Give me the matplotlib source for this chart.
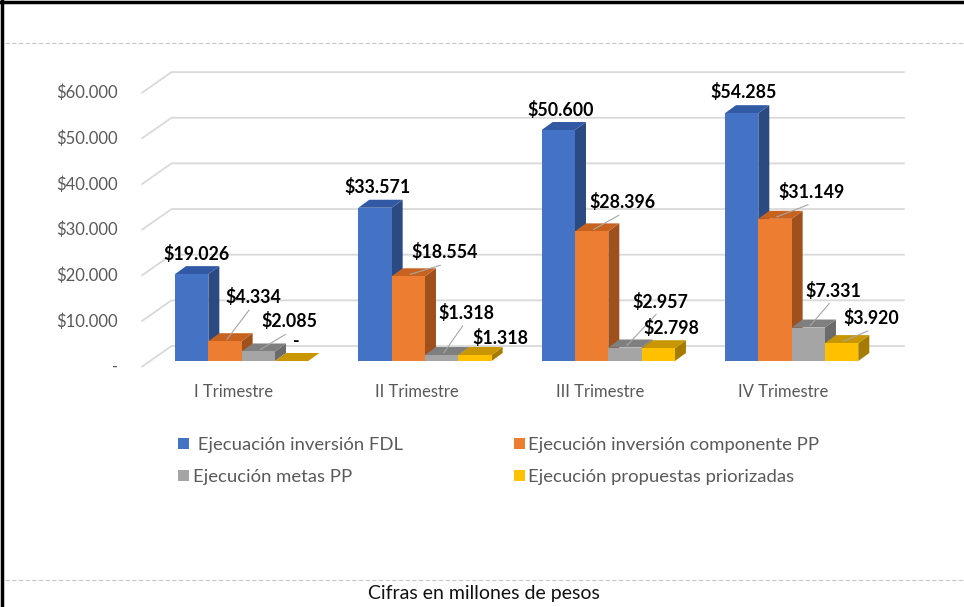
# libraries
import matplotlib
matplotlib.use("Agg")
import matplotlib.pyplot as plt
from matplotlib.patches import Patch
from matplotlib.lines import Line2D
from matplotlib.transforms import offset_copy
import numpy as np

# data
categories = ["I Trimestre", "II Trimestre", "III Trimestre", "IV Trimestre"]
series = [" Ejecuación inversión FDL", "Ejecución inversión componente PP",
          "Ejecución metas PP", "Ejecución propuestas priorizadas"]
fdl = [19026, 33571, 50600, 54285]
componente_pp = [4334, 18554, 28396, 31149]
metas_pp = [2085, 1318, 2957, 7331]
propuestas = [0, 1318, 2798, 3920]
yticks = [0, 10000, 20000, 30000, 40000, 50000, 60000]

values = [fdl, componente_pp, metas_pp, propuestas]

# styles
front = ["#4472C4", "#ED7D31", "#A5A5A5", "#FFC000"]
top = ["#3259A3", "#C8621F", "#7F7F7F", "#C89600"]
side = ["#2C4A82", "#A0501C", "#6B6B6B", "#A67C00"]
font = ["Lato", "DejaVu Sans"]
grey_txt = "#595959"

# label offsets in pixels (dx right, dy down) from bar front-top centre
label_off = [
    [(5, -20), (28, -44), (31, -30), (5, -19)],
    [(3, -21), (36, -24), (25, -42), (25, -17)],
    [(2, -20), (31, -29), (35, -46), (13, -20)],
    [(2, -21), (37, -27), (25, -37), (30, -25)],
]
leader = [
    [False, True, True, False],
    [False, True, True, False],
    [False, True, True, False],
    [False, True, True, True],
]

W, H, DPI = 964, 607, 100
fig = plt.figure(figsize=(W / DPI, H / DPI), dpi=DPI)
ax = fig.add_axes([150 / W, (H - 361) / H, 733.3 / W, 273.9 / H])
ax.set_xlim(-0.5, 3.5)
ax.set_ylim(0, 60000)
ax.axis("off")

px_x = 733.3 / 4.0          # pixels per category unit
px_y = 273.9 / 60000.0      # pixels per value unit


def off(dx, dy):
    # pixel offset (right, down) -> data offset
    return dx / px_x, -dy / px_y


bw = 0.1818
depth = off(11, -8)
front_off = off(-8.5, 6)
back_off = off(21.5, -15)

# gridlines (back wall + left diagonal)
for v in yticks:
    xs = [-0.5 + front_off[0], -0.5 + back_off[0], 3.5 + back_off[0]]
    ys = [v + front_off[1], v + back_off[1], v + back_off[1]]
    ax.plot(xs, ys, color="#D9D9D9", lw=1.3, clip_on=False, zorder=1,
            solid_capstyle="butt")
    lab = "-" if v == 0 else "${:,.0f}".format(v).replace(",", ".")
    ax.text(-0.5, v, lab, ha="right", va="center", fontsize=12,
            family=font, color=grey_txt,
            transform=offset_copy(ax.transData, fig, x=-32, y=-6, units="dots"))

# bars with fake depth
for s in range(4):
    x0 = np.arange(4) + (s - 2) * bw
    bars = ax.bar(x0, values[s], width=bw, align="edge", color=front[s],
                  linewidth=0, clip_on=False)
    for g, b in enumerate(bars):
        z = 10 + g * 10 + s * 2
        b.set_zorder(z + 1)
        a, c = x0[g], x0[g] + bw
        v = values[s][g]
        dx, dy = depth
        ax.fill([c, c + dx, c + dx, c], [0, dy, v + dy, v], color=side[s],
                lw=0, clip_on=False, zorder=z)
        ax.fill([a, c, c + dx, a + dx], [v, v, v + dy, v + dy], color=top[s],
                lw=0, clip_on=False, zorder=z)

        # data labels
        lx, ly = label_off[g][s]
        txt = "-" if v == 0 else "${:,.0f}".format(v).replace(",", ".")
        cx = a + bw / 2
        ax.text(cx, v, txt, ha="center", va="center", fontsize=12.8,
                fontweight="bold", family=font, color="black", zorder=100,
                transform=offset_copy(ax.transData, fig, x=lx, y=-ly,
                                      units="dots"))
        if leader[g][s]:
            ex, ey = off(lx - 4, ly + 13)
            sx, sy = off(2, -2)
            ax.plot([cx + sx, cx + ex], [v + sy, v + ey], color="#A6A6A6",
                    lw=0.8, clip_on=False, zorder=99)

# category labels
for g, cat in enumerate(categories):
    ax.text(g, 0, cat, ha="center", va="center", fontsize=12,
            family=font, color=grey_txt,
            transform=offset_copy(ax.transData, fig, x=-8.5, y=-31,
                                  units="dots"))

# legend
order = [0, 2, 1, 3]
handles = [Patch(facecolor=front[i], edgecolor="none", label=series[i])
           for i in order]
fig.legend(handles=handles, loc="upper left",
           bbox_to_anchor=(170.5 / W, 1 - 429.5 / H), ncol=2, frameon=False,
           prop={"family": font, "size": 13.3}, labelcolor=grey_txt,
           handlelength=0.6, handleheight=0.6, handletextpad=0.2,
           labelspacing=0.87, columnspacing=6.0, borderaxespad=0)

# footnote
fig.text(484 / W, 1 - 594 / H, "Cifras en millones de pesos", ha="center",
         va="center", fontsize=14, family=font, color="#111111")

# frame and dashed separators
fig.add_artist(Line2D([1.5 / W, 1.5 / W], [0, 1], color="black", lw=2.5))
fig.add_artist(Line2D([0, 1], [1 - 1.5 / H, 1 - 1.5 / H], color="black", lw=2.5))
for yy in (43, 580):
    fig.add_artist(Line2D([5 / W, 1], [1 - yy / H, 1 - yy / H],
                          color="#C8C8C8", lw=0.8, ls=(0, (4, 2))))

fig.savefig("out.png", dpi=DPI)
